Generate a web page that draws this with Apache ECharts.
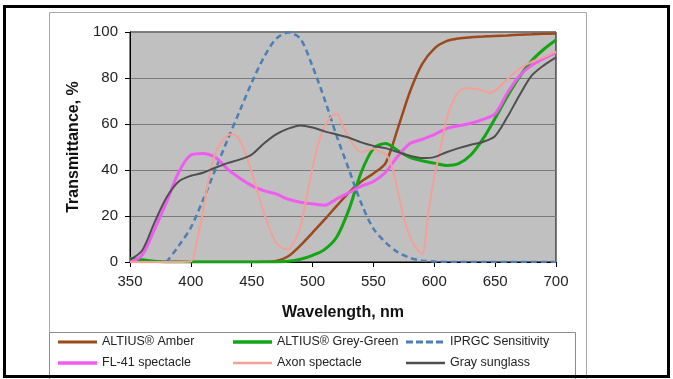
<!DOCTYPE html>
<html>
<head>
<meta charset="utf-8">
<script src="https://cdn.jsdelivr.net/npm/echarts@6/dist/echarts.min.js"></script>
<style>
  html, body { margin: 0; padding: 0; background: #fff; }
  #chart { width: 673px; height: 379px; }
</style>
</head>
<body>
<div id="chart"></div>
<script>
// wavelength grid (nm) used by most curves
const wavelengths = [350, 360, 370, 380, 390, 400, 410, 420, 430, 440, 450, 460, 470, 480, 490, 500, 510, 520,
  530, 540, 550, 560, 570, 580, 590, 600, 610, 620, 630, 640, 650, 660, 670, 680, 690, 700];

// transmittance, %
const amber = [0, 0, 0, 0, 0, 0, 0, 0, 0, 0, 0, 0.1, 0.4, 2.5, 7.2, 12.8, 18.5, 24.5,
  30.3, 35, 38.5, 43, 58, 74, 86, 92.8, 96, 97.2, 97.7, 98, 98.3, 98.5, 98.8, 99, 99.2, 99.3];
const greyGreen = [1.5, 1, 0.3, 0, 0, 0, 0, 0, 0, 0, 0, 0, 0, 0.3, 1.2, 2.9, 5.5, 11,
  23, 39, 49.3, 51.5, 48.5, 45.5, 44, 43, 42, 42.8, 46.5, 53.5, 62.5, 72, 80.5, 87.5, 92.5, 96.5];
const iprgc = [null, null, null, 0, 7, 15, 27, 40, 53, 65.5, 78, 89, 97, 99.8, 97, 85, 70.5, 54.5,
  40, 25.5, 14.5, 8.5, 4.3, 1.8, 0.6, 0.2, 0, 0, 0, 0, 0, 0, 0, 0, 0, 0];
const fl41 = [0, 3, 14, 26, 39, 46.5, 47.2, 45.5, 40.5, 36.5, 33.2, 31, 29.6, 27.3, 26, 25.3, 24.7, 27.5,
  30.2, 33, 35, 39, 46, 51.5, 53.3, 55.4, 58, 59.2, 60.3, 62, 64.5, 73.5, 81, 85.5, 88.5, 91];
const graySunglass = [1, 5, 17, 28, 35, 37.5, 38.8, 41, 43, 44.5, 46.7, 51.5, 55.5, 58, 59.4, 58.5, 56.8, 55.4,
  54, 52, 50.5, 49.5, 47.8, 46.2, 45.2, 45.6, 47.7, 49.5, 51, 52.2, 54.8, 63, 72.5, 81, 85.5, 89];

// Axon has sharp notches, so it is read on a finer grid
const axonNm = [350, 360, 370, 380, 390, 400, 405, 410, 415, 420, 425, 430, 435, 440, 445, 450, 455, 460, 465,
  470, 475, 480, 485, 490, 495, 500, 505, 510, 515, 520, 525, 530, 535, 540, 545, 550, 555, 560, 565, 570,
  575, 580, 585, 590, 595, 600, 605, 610, 615, 620, 625, 630, 640, 645, 650, 660, 670, 680, 690, 700];
const axon = [0, 0, 0, 0, 0, 0.3, 9, 22, 37, 47, 52, 55, 55.5, 53, 47, 39, 30, 21.5, 14,
  8.5, 6, 5.5, 9, 15, 28, 41, 52, 59, 63, 64.5, 59, 54, 50, 47.8, 48.5, 49.3, 48, 47, 42, 31,
  19, 11, 6, 3.5, 21, 37, 49, 62, 69.5, 74, 75.5, 75.5, 74.5, 73.5, 74.5, 79.5, 84, 87, 89, 91.5];

const xTicks = { min: 350, max: 700, interval: 50 };
const yTicks = { min: 0, max: 100, interval: 20 };

const FONT = 'Liberation Sans, Arial, sans-serif';

const pair = (xs, ys) => xs.map((x, i) => [x, ys[i]]);

const seriesDefs = [
  { name: 'ALTIUS® Amber', x: wavelengths, y: amber, color: '#9c4a1c', width: 2.5 },
  { name: 'ALTIUS® Grey-Green', x: wavelengths, y: greyGreen, color: '#14a514', width: 3 },
  { name: 'IPRGC Sensitivity', x: wavelengths, y: iprgc, color: '#4a7fb8', width: 2.5, dash: [6, 4] },
  { name: 'FL-41 spectacle', x: wavelengths, y: fl41, color: '#ef5cef', width: 3 },
  { name: 'Axon spectacle', x: axonNm, y: axon, color: '#f4a097', width: 2 },
  { name: 'Gray sunglass', x: wavelengths, y: graySunglass, color: '#4f4f4f', width: 2 },
];

// legend sample: a bar (or dashes) inside a 39x14 box, the corner dots keep the box size
function legendIcon(w, dashed) {
  const y0 = 7 - w / 2, y1 = 7 + w / 2;
  let body = '';
  if (dashed) {
    for (let x = 0; x < 39; x += 10) body += `M${x},${y0}H${x + 7}V${y1}H${x}Z `;
  } else {
    body = `M0,${y0}H39V${y1}H0Z `;
  }
  return `path://M0,0L0,0L0,0Z ${body}M39,14L39,14L39,14Z`;
}

const legendItem = (name) => {
  const s = seriesDefs.find((d) => d.name === name);
  return { name, icon: legendIcon(s.width + 0.5, !!s.dash) };
};

const chart = echarts.init(document.getElementById('chart'));

const legendBase = {
  orient: 'vertical',
  top: 335,
  padding: 0,
  itemWidth: 39,
  itemHeight: 14,
  itemGap: 7,
  textStyle: { fontFamily: FONT, fontSize: 12.5, color: '#222' },
  selectedMode: false,
};

chart.setOption({
  animation: false,
  backgroundColor: '#fff',
  textStyle: { fontFamily: FONT },
  graphic: [
    { type: 'rect', shape: { x: 49.5, y: 12.5, width: 537, height: 380 }, style: { fill: null, stroke: '#a8a8a8', lineWidth: 1 }, z: -1 },
    { type: 'rect', shape: { x: 49.5, y: 332.5, width: 526, height: 60 }, style: { fill: null, stroke: '#8c8c8c', lineWidth: 1 }, z: -1 },
    { type: 'rect', shape: { x: 4.5, y: 6.5, width: 664, height: 370 }, style: { fill: null, stroke: '#000', lineWidth: 3 }, z: 100 },
  ],
  legend: [
    Object.assign({}, legendBase, { left: 58, data: ['ALTIUS® Amber', 'FL-41 spectacle'].map(legendItem) }),
    Object.assign({}, legendBase, { left: 233, data: ['ALTIUS® Grey-Green', 'Axon spectacle'].map(legendItem) }),
    Object.assign({}, legendBase, { left: 406, data: ['IPRGC Sensitivity', 'Gray sunglass'].map(legendItem) }),
  ],
  grid: {
    left: 130, right: 117, top: 32, bottom: 117,
    show: true, backgroundColor: '#c0c0c0', borderColor: '#000', borderWidth: 1,
  },
  xAxis: {
    type: 'value',
    min: xTicks.min, max: xTicks.max, interval: xTicks.interval,
    name: 'Wavelength, nm',
    nameLocation: 'middle',
    nameGap: 43,
    nameTextStyle: { fontFamily: FONT, fontSize: 16, fontWeight: 'bold', color: '#111' },
    axisLine: { lineStyle: { color: '#000', width: 1 } },
    axisTick: { show: true, length: 5, lineStyle: { color: '#000' } },
    axisLabel: { fontFamily: FONT, fontSize: 15, color: '#222', margin: 12 },
    splitLine: { show: false },
  },
  yAxis: {
    type: 'value',
    min: yTicks.min, max: yTicks.max, interval: yTicks.interval,
    name: 'Transmittance, %',
    nameLocation: 'middle',
    nameGap: 48,
    nameTextStyle: { fontFamily: FONT, fontSize: 16, fontWeight: 'bold', color: '#111' },
    axisLine: { show: true, lineStyle: { color: '#000', width: 1 } },
    axisTick: { show: true, length: 5, lineStyle: { color: '#000' } },
    axisLabel: { fontFamily: FONT, fontSize: 15, color: '#222', margin: 12 },
    splitLine: { show: true, lineStyle: { color: '#7a7a7a', width: 1 } },
  },
  series: seriesDefs.map((s) => ({
    name: s.name,
    type: 'line',
    smooth: 0.3,
    symbol: 'none',
    connectNulls: false,
    color: s.color,
    itemStyle: { color: s.color },
    lineStyle: { color: s.color, width: s.width, type: s.dash || 'solid' },
    data: pair(s.x, s.y),
  })),
});
</script>
</body>
</html>
